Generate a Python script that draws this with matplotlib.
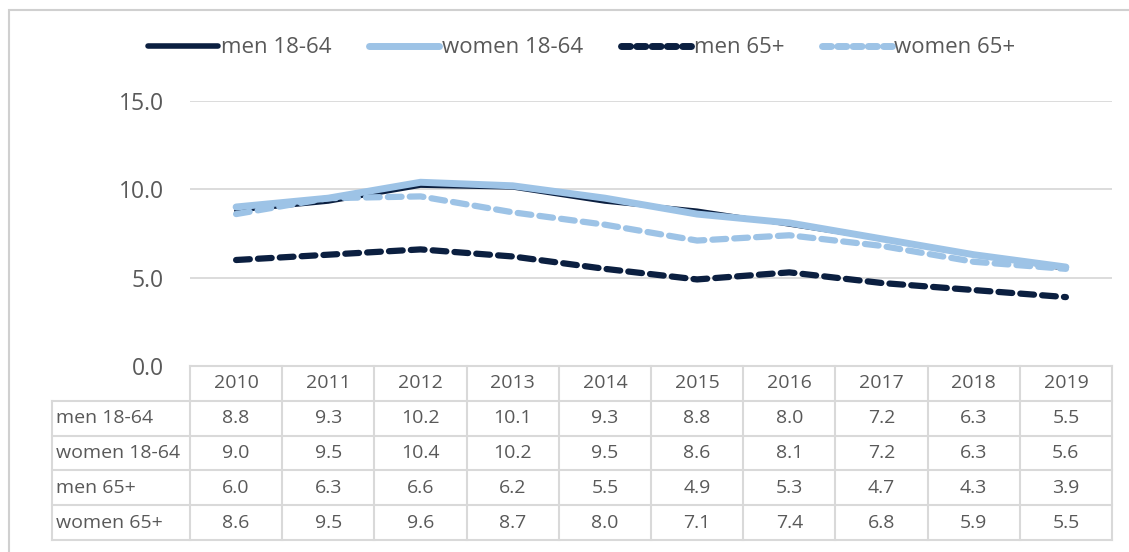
import matplotlib.pyplot as plt
from matplotlib.lines import Line2D

years = ["2010", "2011", "2012", "2013", "2014", "2015", "2016", "2017", "2018", "2019"]
series_names = ["men 18-64", "women 18-64", "men 65+", "women 65+"]
men_18_64 = [8.8, 9.3, 10.2, 10.1, 9.3, 8.8, 8.0, 7.2, 6.3, 5.5]
women_18_64 = [9.0, 9.5, 10.4, 10.2, 9.5, 8.6, 8.1, 7.2, 6.3, 5.6]
men_65 = [6.0, 6.3, 6.6, 6.2, 5.5, 4.9, 5.3, 4.7, 4.3, 3.9]
women_65 = [8.6, 9.5, 9.6, 8.7, 8.0, 7.1, 7.4, 6.8, 5.9, 5.5]
y_ticks = [0, 5, 10, 15]

NAVY = "#0b1f40"
LIGHT = "#9dc3e6"
GRID = "#d9d9d9"
TEXT = "#595959"
plt.rcParams["font.family"] = ["Open Sans", "DejaVu Sans"]

W, H = 1129, 552
fig = plt.figure(figsize=(W / 100, H / 100), dpi=100)

# chart area border
fig.add_artist(plt.Rectangle((9 / W, -0.01), 1.2, 1 - 10 / H + 0.01, transform=fig.transFigure,
                             fill=False, edgecolor="#d0d0d0", linewidth=1.5))

x0, x1 = 190, 1112
ytop, ybot = 101, 366
ax = fig.add_axes([x0 / W, 1 - ybot / H, (x1 - x0) / W, (ybot - ytop) / H])
ax.set_xlim(-0.5, 9.5)
ax.set_ylim(0, 15)
xs = list(range(len(years)))

styles = [
    (men_18_64, NAVY, "-", 3),
    (women_18_64, LIGHT, "-", 5),
    (men_65, NAVY, (0, (2.2, 1.3)), 4.5),
    (women_65, LIGHT, (0, (2.2, 1.3)), 4.5),
]
handles = []
for name, (vals, color, ls, lw) in zip(series_names, styles):
    ax.plot(xs, vals, color=color, linestyle=ls, linewidth=lw, solid_capstyle="round",
            dash_capstyle="round", clip_on=False)
    handles.append(Line2D([0], [0], color=color, linestyle=ls if ls == "-" else (0, (1.3, 0.9)),
                          linewidth=5 if ls != "-" else (4 if color == NAVY else 5),
                          solid_capstyle="round", dash_capstyle="round", label=name))

ax.set_yticks(y_ticks)
ax.set_yticklabels([f"{v:.1f}" for v in y_ticks], fontsize=16.5, color=TEXT)
ax.tick_params(axis="y", length=0, pad=19)
ax.set_xticks([])
ax.grid(axis="y", color=GRID, linewidth=1.3)
ax.set_axisbelow(True)
for s in ax.spines.values():
    s.set_visible(False)

fig.legend(handles=handles, loc="center", bbox_to_anchor=(582 / W, 1 - 48 / H), ncol=4,
           frameon=False, fontsize=16, handlelength=3.15, handletextpad=0.12,
           columnspacing=1.7, labelcolor=TEXT)

# data table under the axis
tl, tb = 52, 540
tax = fig.add_axes([tl / W, 1 - tb / H, (x1 - tl) / W, (tb - ybot) / H])
lab_w = (x0 - tl) / ((x1 - x0) / 10)
tax.set_xlim(-0.5 - lab_w, 9.5)
tax.set_ylim(5, 0)
tax.axis("off")
rows = [men_18_64, women_18_64, men_65, women_65]
lk = dict(color=GRID, linewidth=1.5, clip_on=False)
# horizontal lines
tax.plot([-0.5, 9.5], [0, 0], **lk)
for r in range(1, 6):
    tax.plot([-0.5 - lab_w, 9.5], [r, r], **lk)
# vertical lines
tax.plot([-0.5 - lab_w] * 2, [1, 5], **lk)
for c in range(11):
    tax.plot([c - 0.5] * 2, [0, 5], **lk)
for c, yr in enumerate(years):
    tax.text(c, 0.5, yr, ha="center", va="center", fontsize=14, color=TEXT)
for r, (name, vals) in enumerate(zip(series_names, rows), start=1):
    tax.text(-0.5 - lab_w + 0.04, r + 0.5, name, ha="left", va="center", fontsize=14, color=TEXT)
    for c, v in enumerate(vals):
        tax.text(c, r + 0.5, f"{v:.1f}", ha="center", va="center", fontsize=14, color=TEXT)

fig.savefig("out.png", dpi=100)
